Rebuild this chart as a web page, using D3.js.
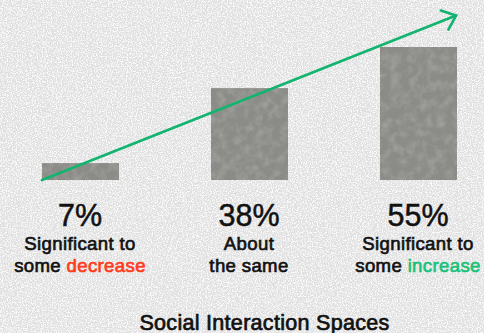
<!DOCTYPE html>
<html>
<head>
<meta charset="utf-8">
<script src="https://cdn.jsdelivr.net/npm/d3@7"></script>
<style>
  html, body { margin: 0; padding: 0; background: #e3e3e3; }
  svg { display: block; }
  text { font-family: "Liberation Sans", Arial, Helvetica, sans-serif; }
</style>
</head>
<body>
<svg id="chart" width="484" height="333"></svg>
<script>
// Survey result: expected change in use of social interaction spaces
const categories = ["decrease", "same", "increase"];
const values = [7, 38, 55];
const labelLine1 = ["Significant to", "About", "Significant to"];
const labelLine2Plain = ["some ", "the same", "some "];
const labelLine2Accent = ["decrease", "", "increase"];
const chartTitle = "Social Interaction Spaces";

const W = 484, H = 333;
const svg = d3.select("#chart");
const defs = svg.append("defs");

// Paper grain for the backdrop: white speckles from fine noise
const grain = defs.append("filter").attr("id", "grain")
  .attr("x", 0).attr("y", 0).attr("width", "100%").attr("height", "100%");
grain.append("feTurbulence").attr("type", "fractalNoise")
  .attr("baseFrequency", 0.8).attr("numOctaves", 2).attr("seed", 4).attr("result", "n");
grain.append("feColorMatrix").attr("in", "n").attr("type", "matrix")
  .attr("values", "0 0 0 0 1  0 0 0 0 1  0 0 0 0 1  5 0 0 0 -2.25");

// Soft stone grain for the bars
const mottle = defs.append("filter").attr("id", "mottle");
mottle.append("feTurbulence").attr("type", "fractalNoise")
  .attr("baseFrequency", 0.11).attr("numOctaves", 4).attr("seed", 9).attr("result", "t");
mottle.append("feColorMatrix").attr("in", "t").attr("type", "matrix")
  .attr("values", "0 0 0 0 0.62  0 0 0 0 0.62  0 0 0 0 0.6  0.55 0 0 0 -0.22").attr("result", "m");
mottle.append("feComposite").attr("in", "m").attr("in2", "SourceGraphic")
  .attr("operator", "in").attr("result", "mc");
const merge = mottle.append("feMerge");
merge.append("feMergeNode").attr("in", "SourceGraphic");
merge.append("feMergeNode").attr("in", "mc");

svg.append("rect").attr("width", W).attr("height", H).attr("fill", "#e0e0e0");
svg.append("rect").attr("width", W).attr("height", H).attr("filter", "url(#grain)").attr("opacity", 0.85);

// Scales
const x = d3.scaleBand().domain(categories).range([42, 457]).paddingInner(0.5444).paddingOuter(0);
const y = d3.scaleLinear().domain([0, 55]).range([180, 47]);

// Bars
svg.append("g").selectAll("rect").data(values).join("rect")
  .attr("x", (d, i) => x(categories[i]))
  .attr("y", d => y(d))
  .attr("width", x.bandwidth())
  .attr("height", d => y(0) - y(d))
  .attr("fill", "#8b8b87")
  .attr("filter", "url(#mottle)");

// Upward trend arrow from the base of the first bar past the last bar
const trendTop = 68;
const start = [x(categories[0]), y(0)];
const end = [x(categories[2]) + x.bandwidth() - 1, y(trendTop)];
const green = "#12b46f";
svg.append("line")
  .attr("x1", start[0]).attr("y1", start[1])
  .attr("x2", end[0]).attr("y2", end[1])
  .attr("stroke", green).attr("stroke-width", 2.7).attr("stroke-linecap", "round");
const ang = Math.atan2(start[1] - end[1], start[0] - end[0]);
const headLen = 16, spread = 40 * Math.PI / 180;
const head = d3.line()([
  [end[0] + headLen * Math.cos(ang - spread), end[1] + headLen * Math.sin(ang - spread)],
  end,
  [end[0] + headLen * Math.cos(ang + spread), end[1] + headLen * Math.sin(ang + spread)]
]);
svg.append("path").attr("d", head).attr("fill", "none")
  .attr("stroke", green).attr("stroke-width", 2.7)
  .attr("stroke-linecap", "round").attr("stroke-linejoin", "miter");

// Value and category labels
const ink = "#111111";
const lbl = svg.append("g").attr("text-anchor", "middle");
categories.forEach((c, i) => {
  const cx = x(c) + x.bandwidth() / 2 - 0.5;
  lbl.append("text").attr("x", cx).attr("y", 226)
    .attr("font-size", 30.5).attr("fill", ink)
    .attr("stroke", ink).attr("stroke-width", 0.5)
    .text(values[i] + "%");
  lbl.append("text").attr("x", cx).attr("y", 250)
    .attr("font-size", 18.6).attr("fill", ink)
    .attr("stroke", ink).attr("stroke-width", 0.65)
    .attr("letter-spacing", 0.35)
    .text(labelLine1[i]);
  const t2 = lbl.append("text").attr("x", cx).attr("y", 271.5)
    .attr("font-size", 18.6).attr("fill", ink)
    .attr("stroke", ink).attr("stroke-width", 0.65)
    .attr("letter-spacing", 0.35);
  t2.append("tspan").text(labelLine2Plain[i]);
  if (labelLine2Accent[i]) {
    const col = i === 0 ? "#ff3b1d" : "#19c07a";
    t2.append("tspan").attr("fill", col).attr("stroke", col).text(labelLine2Accent[i]);
  }
});

// Chart title
svg.append("text").attr("x", 264.5).attr("y", 329.5).attr("text-anchor", "middle")
  .attr("font-size", 21.5).attr("fill", ink)
  .attr("stroke", ink).attr("stroke-width", 0.7)
  .attr("letter-spacing", 0.3)
  .text(chartTitle);
</script>
</body>
</html>
